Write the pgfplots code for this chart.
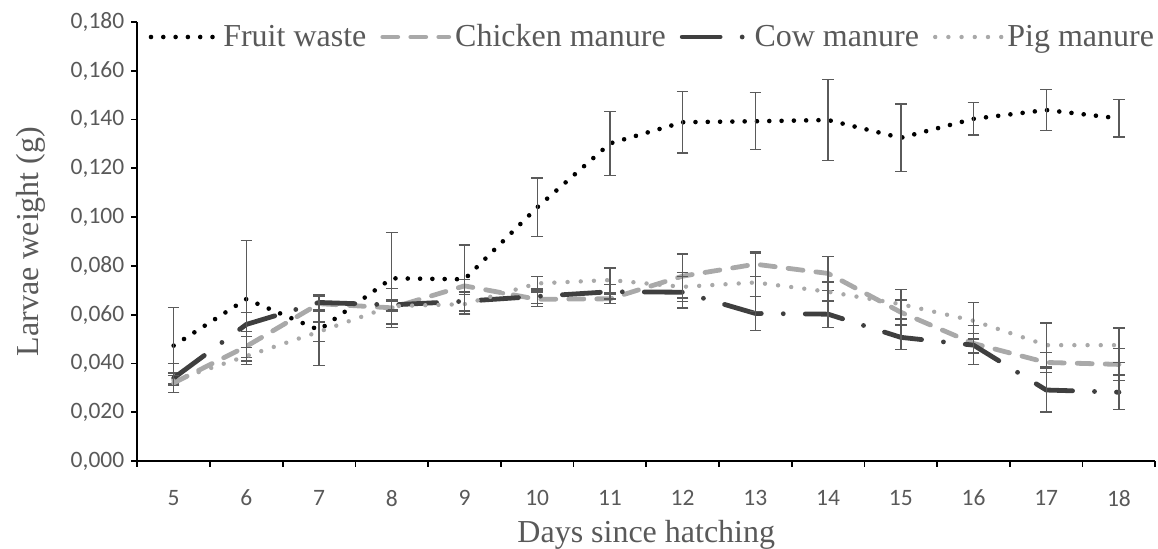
\documentclass[border=0pt]{standalone}
\usepackage{fontspec}
\setmainfont{Liberation Serif}
\newfontfamily\carlito{Carlito}
\usepackage{pgfplots}
\usepackage{pgfplotstable}
\pgfplotsset{compat=1.18}
\definecolor{textc}{HTML}{595959}
\definecolor{errc}{HTML}{5A5A5A}
\definecolor{lgray}{HTML}{A9A9A9}
\definecolor{dgray}{HTML}{3F3F3F}

\pgfplotstableread{
x y e
5 0.0473 0.0157
6 0.0664 0.0239
7 0.0537 0.0145
8 0.0749 0.0188
9 0.0745 0.0140
10 0.1040 0.0120
11 0.1302 0.0132
12 0.1389 0.0126
13 0.1393 0.0117
14 0.1398 0.0165
15 0.1325 0.0138
16 0.1403 0.0066
17 0.1439 0.0083
18 0.1405 0.0077
}\fruit
\pgfplotstableread{
x y e
5 0.0320 0.0040
6 0.0470 0.0060
7 0.0645 0.0030
8 0.0628 0.0080
9 0.0718 0.0025
10 0.0663 0.0030
11 0.0665 0.0020
12 0.0758 0.0090
13 0.0807 0.0050
14 0.0769 0.0070
15 0.0610 0.0050
16 0.0482 0.0040
17 0.0404 0.0040
18 0.0396 0.0065
}\chicken
\pgfplotstableread{
x y e
5 0.0340 0.0060
6 0.0560 0.0050
7 0.0650 0.0030
8 0.0640 0.0020
9 0.0655 0.0040
10 0.0675 0.0030
11 0.0694 0.0030
12 0.0692 0.0065
13 0.0605 0.0070
14 0.0602 0.0055
15 0.0507 0.0050
16 0.0475 0.0080
17 0.0291 0.0090
18 0.0282 0.0070
}\cow
\pgfplotstableread{
x y e
5 0.0330 0.0020
6 0.0430 0.0035
7 0.0530 0.0040
8 0.0635 0.0020
9 0.0643 0.0040
10 0.0728 0.0028
11 0.0742 0.0050
12 0.0714 0.0060
13 0.0732 0.0120
14 0.0694 0.0040
15 0.0643 0.0060
16 0.0575 0.0075
17 0.0475 0.0090
18 0.0475 0.0070
}\pig

\begin{document}
\begin{tikzpicture}
\begin{axis}[name=ax,
  scale only axis, width=509pt, height=219.5pt,
  xmin=4.5, xmax=18.5, ymin=0, ymax=0.18, enlargelimits=false,
  axis x line*=bottom, axis y line*=left,
  axis line style={-, line width=0.9pt, black},
  tick align=outside,
  xtick={4.5,5.5,6.5,7.5,8.5,9.5,10.5,11.5,12.5,13.5,14.5,15.5,16.5,17.5,18.5},
  x tick label as interval,
  xticklabels={5,6,7,8,9,10,11,12,13,14,15,16,17,18},
  ytick={0,0.02,0.04,0.06,0.08,0.1,0.12,0.14,0.16,0.18},
  yticklabels={{0,000},{0,020},{0,040},{0,060},{0,080},{0,100},{0,120},{0,140},{0,160},{0,180}},
  major tick length=3pt,
  tick style={line width=0.9pt, black},
  ticklabel style={font=\carlito\fontsize{11.75}{14}\selectfont, text=textc},
  xticklabel style={yshift=-8pt},
  xlabel={Days since hatching}, ylabel={Larvae weight (g)},
  label style={font=\fontsize{16}{18}\selectfont, text=textc},
  ylabel style={yshift=6pt},
  legend columns=4,
  legend style={draw=none, fill=none, at={(0.0108,0.9658)}, anchor=west, inner sep=0pt,
    font=\fontsize{16}{18}\selectfont, text=textc,
    /tikz/every even column/.append style={column sep=5pt}},
  legend image code/.code={\draw[#1] (0pt,0pt) -- (33pt,0pt);},
  error bars/y dir=both, error bars/y explicit,
  error bars/error bar style={solid, line width=0.7pt, errc, line cap=butt},
  error bars/error mark=-,
  error bars/error mark options={rotate=90, solid, line width=0.7pt, errc, mark size=2.9pt, line cap=butt},
]
\addplot[mark=none, black, line width=2.3pt, line cap=round, line join=round, dash pattern=on 0pt off 6.15pt]
  table[x=x, y=y, y error=e]{\fruit};
\addlegendentry{Fruit waste}
\addplot[mark=none, lgray, line width=2.4pt, line cap=round, line join=round, dash pattern=on 7.5pt off 6.5pt]
  table[x=x, y=y, y error=e]{\chicken};
\addlegendentry{Chicken manure}
\addplot[mark=none, dgray, line width=2.4pt, line cap=round, line join=round, dash pattern=on 19pt off 11pt on 0pt off 11pt]
  table[x=x, y=y, y error=e]{\cow};
\addlegendentry{Cow manure}
\addplot[mark=none, lgray, line width=2.2pt, line cap=round, line join=round, dash pattern=on 0pt off 6.6pt]
  table[x=x, y=y, y error=e]{\pig};
\addlegendentry{Pig manure}
\end{axis}
\pgfresetboundingbox
\path ([xshift=-68.65pt,yshift=-44pt]ax.south west) rectangle ++(579pt,274.5pt);
\end{tikzpicture}
\end{document}
